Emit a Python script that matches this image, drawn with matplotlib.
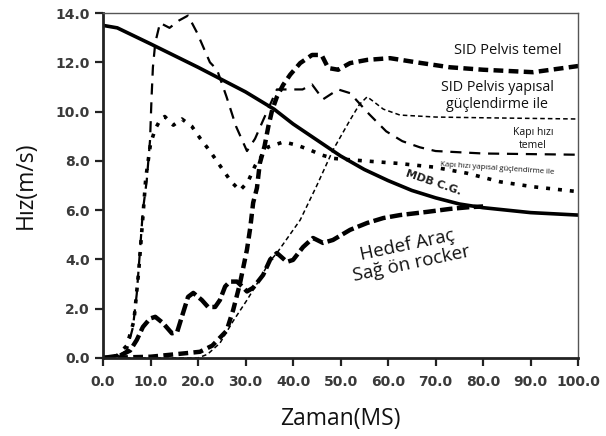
import numpy as np
import matplotlib.pyplot as plt

# MDB C.G. (solid)
mdb_t = [0, 3, 10, 20, 30, 36, 40, 45, 50, 55, 60, 65, 70, 75, 80, 90, 100]
mdb_v = [13.5, 13.4, 12.75, 11.8, 10.8, 10.1, 9.5, 8.85, 8.2, 7.65, 7.2, 6.8, 6.5, 6.25, 6.1, 5.9, 5.8]

# Kapi hizi temel (dashed)
kt_t = [0, 3, 5, 6.3, 7.1, 7.8, 8.4, 9.2, 9.9, 10.2, 10.5, 11, 12, 14, 16, 17.9, 19.8,
        22.5, 24, 26, 28, 30.3, 32, 33.7, 36.6, 40, 42, 44, 46.3, 49.5, 52, 56, 59.6,
        63, 66.7, 70, 80, 100]
kt_v = [0, 0.05, 0.3, 1.25, 2.6, 4.4, 6.0, 7.2, 8.85, 10.5, 11.8, 12.8, 13.6, 13.4, 13.7,
        13.9, 13.2, 12.0, 11.7, 10.6, 9.4, 8.4, 8.9, 9.65, 10.9, 10.9, 10.9, 11.1, 10.5,
        10.9, 10.75, 9.9, 9.2, 8.8, 8.55, 8.4, 8.3, 8.25]

# Kapi hizi yapisal guclendirme ile (dotted)
ky_t = [0, 3, 5, 6.5, 7.5, 8.3, 9, 10, 11, 12, 13, 14.8, 16.6, 18.7, 20.5, 22.5, 25,
        27, 28.8, 30.5, 32, 34.7, 38, 40.8, 43.6, 46, 48.5, 55, 62, 69.5, 76.6, 83.6,
        90.5, 100]
ky_v = [0, 0.1, 0.5, 1.5, 3.5, 5.5, 7.3, 8.7, 9.3, 9.65, 9.8, 9.45, 9.7, 9.4, 8.9, 8.4,
        7.7, 7.15, 6.8, 7.15, 7.8, 8.56, 8.77, 8.64, 8.44, 8.24, 8.1, 8.0, 7.9, 7.75, 7.5,
        7.15, 6.95, 6.75]

# SID Pelvis temel (thick dashed)
st_t = [0, 10, 20.4, 23, 26, 27.4, 28.8, 30.3, 31, 31.6, 32.4, 33, 34, 34.8, 35.6, 36.6,
        37.9, 39.4, 41.5, 44, 46, 47.4, 49.5, 52, 55.6, 60.4, 66, 73, 80, 90.5, 100]
st_v = [0, 0.05, 0.25, 0.5, 1.1, 1.95, 3.0, 4.4, 5.3, 6.3, 6.9, 7.9, 8.6, 9.4, 10.06,
        10.6, 11.08, 11.5, 11.97, 12.3, 12.3, 11.77, 11.7, 11.97, 12.1, 12.17, 12.0, 11.8,
        11.7, 11.6, 11.85]

# SID Pelvis yapisal guclendirme ile (thin dashed)
sy_t = [0, 20, 22, 24.6, 27.4, 30.3, 33, 35, 36.6, 41.5, 45, 48.4, 52, 54, 55.6, 57, 59,
        62.5, 70, 80, 100]
sy_v = [0, 0, 0.15, 0.6, 1.5, 2.35, 3.2, 3.9, 4.26, 5.6, 7.0, 8.44, 9.66, 10.3, 10.6,
        10.4, 10.1, 9.86, 9.78, 9.75, 9.7]

# Hedef Arac sag on rocker (heavy dash)
hr_t = [0, 3.6, 5.7, 7.1, 8.4, 9.9, 11, 12.6, 14.5, 15.6, 16.8, 17.9, 19, 20.8, 22.1,
        23.6, 24.6, 25.7, 26.7, 28.2, 29.3, 30.3, 31.6, 33.7, 35.2, 36.6, 38.7, 40, 42.1,
        44.2, 46.3, 48.4, 52, 55.6, 59, 62.5, 68.2, 73, 77, 80]
hr_v = [0, 0.1, 0.3, 0.73, 1.26, 1.6, 1.67, 1.42, 1.0, 1.05, 1.8, 2.48, 2.64, 2.35, 2.07,
        2.07, 2.35, 2.9, 3.1, 3.1, 2.9, 2.7, 2.85, 3.37, 4.0, 4.26, 3.9, 3.98, 4.5, 4.87,
        4.67, 4.79, 5.2, 5.48, 5.68, 5.8, 5.93, 6.05, 6.12, 6.15]

x_ticks = np.arange(0, 101, 10)
y_ticks = np.arange(0, 15, 2)

fig = plt.figure(figsize=(6.06, 4.36), dpi=100)
ax = fig.add_axes([0.170, 0.179, 0.784, 0.791])

ax.plot(st_t, st_v, color='black', lw=3.2, linestyle=(0, (2.2, 1.2)), solid_capstyle='butt')
ax.plot(sy_t, sy_v, color='black', lw=1.1, linestyle=(0, (3, 2)))
ax.plot(kt_t, kt_v, color='black', lw=1.6, linestyle=(0, (5, 3.5)))
ax.plot(ky_t, ky_v, color='black', lw=2.6, linestyle=(0, (1.1, 2.2)))
ax.plot(hr_t, hr_v, color='black', lw=3.2, linestyle=(0, (2.8, 1.0)))
ax.plot(mdb_t, mdb_v, color='black', lw=2.6, solid_capstyle='round')

ax.set_xlim(0, 100)
ax.set_ylim(0, 14)
ax.set_xticks(x_ticks)
ax.set_yticks(y_ticks)
ax.set_xticklabels(['%.1f' % v for v in x_ticks])
ax.set_yticklabels(['%.1f' % v for v in y_ticks])
ax.tick_params(direction='out', length=6, width=1.6, color='#222222',
               labelcolor='#3a3a3a', labelsize=10)
ax.tick_params(axis='x', pad=6)
for lab in ax.get_xticklabels() + ax.get_yticklabels():
    lab.set_fontweight('bold')
    lab.set_family('DejaVu Sans')

ax.spines['left'].set_linewidth(2.0)
ax.spines['bottom'].set_linewidth(2.0)
ax.spines['left'].set_color('#222222')
ax.spines['bottom'].set_color('#222222')
ax.spines['top'].set_linewidth(1.0)
ax.spines['right'].set_linewidth(1.0)
ax.spines['top'].set_color('#555555')
ax.spines['right'].set_color('#555555')

lbl = dict(family='Open Sans', color='#111111')
ax.set_ylabel('Hız(m/s)', fontsize=16.5, labelpad=13, **lbl)
ax.set_xlabel('Zaman(MS)', fontsize=16.5, labelpad=13, **lbl)

ax.text(85.3, 12.5, 'SID Pelvis temel', ha='center', va='center', fontsize=10.5, **lbl)
ax.text(83, 10.63, 'SID Pelvis yapısal\ngüçlendirme ile', ha='center', va='center',
        fontsize=10.3, linespacing=1.15, **lbl)
ax.text(90.5, 8.9, 'Kapı hızı\ntemel', ha='center', va='center', fontsize=7.5,
        linespacing=1.3, **lbl)
ax.text(83, 7.7, 'Kapı hızı yapısal güçlendirme ile', ha='center', va='center',
        fontsize=5.6, rotation=-4, **lbl)
ax.text(69.5, 7.1, 'MDB C.G.', ha='center', va='center', fontsize=8, rotation=-19,
        fontweight='bold', family='DejaVu Sans', color='#222222')
ax.text(64.5, 4.2, 'Hedef Araç\nSağ ön rocker', ha='center', va='center', fontsize=13.5,
        rotation=12, linespacing=1.1, **lbl)

fig.savefig('out.png', dpi=100)
